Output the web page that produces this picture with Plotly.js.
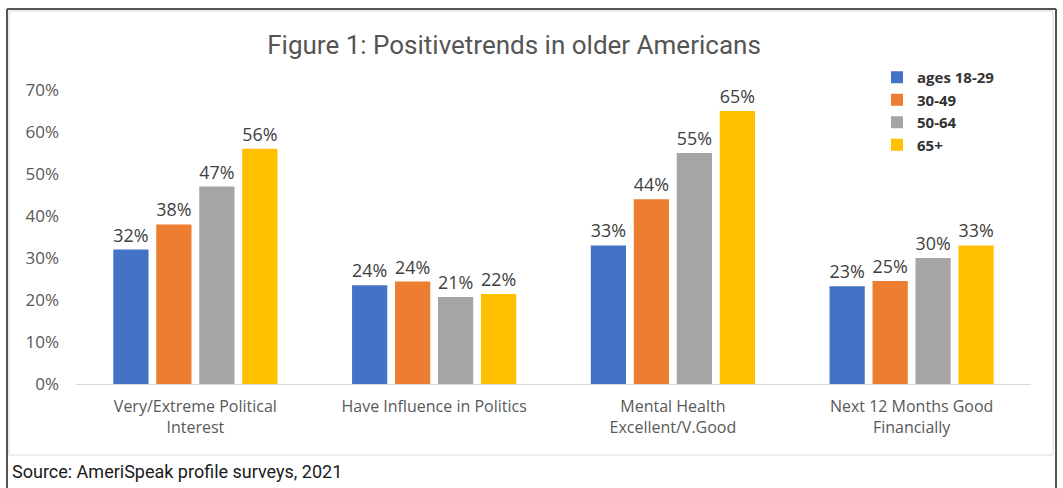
<!DOCTYPE html>
<html>
<head>
<meta charset="utf-8">
<script src="https://cdn.plot.ly/plotly-3.0.1.min.js"></script>
<style>
  html, body { margin: 0; padding: 0; background: #ffffff; }
  #chart { width: 1063px; height: 488px; }
</style>
</head>
<body>
<div id="chart"></div>
<script>
// ---- data ----
var categories = [
  "Very/Extreme Political<br>Interest",
  "Have Influence in Politics",
  "Mental Health<br>Excellent/V.Good",
  "Next 12 Months Good<br>Financially"
];
var seriesNames = ["ages 18-29", "30-49", "50-64", "65+"];
var ages18_29 = [0.32, 0.235, 0.33, 0.233];
var ages30_49 = [0.38, 0.244, 0.44, 0.245];
var ages50_64 = [0.47, 0.207, 0.55, 0.30];
var ages65plus = [0.56, 0.214, 0.65, 0.33];
var labels18_29 = ["32%", "24%", "33%", "23%"];
var labels30_49 = ["38%", "24%", "44%", "25%"];
var labels50_64 = ["47%", "21%", "55%", "30%"];
var labels65plus = ["56%", "22%", "65%", "33%"];
var yTickVals = [0, 0.1, 0.2, 0.3, 0.4, 0.5, 0.6, 0.7];
var yTickText = ["0%", "10%", "20%", "30%", "40%", "50%", "60%", "70%"];
var titleText = "Figure 1: Positivetrends in older Americans";
var sourceText = "Source: AmeriSpeak profile surveys, 2021";

// ---- styling ----
var colors = ["#4472C4", "#ED7D31", "#A5A5A5", "#FFC000"];
var values = [ages18_29, ages30_49, ages50_64, ages65plus];
var labels = [labels18_29, labels30_49, labels50_64, labels65plus];

var W = 1063, H = 488;
var plotL = 76, plotR = 1031, plotT = 90, plotB = 384;
function px(x) { return (x - plotL) / (plotR - plotL); }
function py(y) { return (plotB - y) / (plotB - plotT); }

var traces = seriesNames.map(function (name, i) {
  return {
    type: "bar",
    name: name,
    x: categories,
    y: values[i],
    text: labels[i],
    textposition: "outside",
    cliponaxis: false,
    textfont: { family: "Open Sans, sans-serif", size: 18, color: "#404040" },
    marker: { color: colors[i] },
    hoverinfo: "skip"
  };
});

var layout = {
  width: W,
  height: H,
  paper_bgcolor: "#ffffff",
  plot_bgcolor: "rgba(0,0,0,0)",
  margin: { l: plotL, r: W - plotR, t: plotT, b: H - plotB, pad: 0 },
  barmode: "group",
  bargap: 0.28,
  bargroupgap: 0.18,
  showlegend: true,
  title: {
    text: titleText,
    x: 514 / W,
    xanchor: "center",
    y: 1 - 45 / H,
    yanchor: "middle",
    font: { family: "Roboto, sans-serif", size: 26, color: "#555555" }
  },
  legend: {
    x: px(877),
    xanchor: "left",
    y: py(61),
    yanchor: "top",
    bgcolor: "rgba(0,0,0,0)",
    traceorder: "normal",
    font: { family: "Open Sans, sans-serif", size: 15, color: "#333333", weight: "bold" }
  },
  xaxis: {
    type: "category",
    showline: true,
    linecolor: "#d9d9d9",
    linewidth: 1,
    showgrid: false,
    ticks: "",
    ticklabelstandoff: 8,
    tickfont: { family: "Open Sans, sans-serif", size: 16, color: "#595959" },
    fixedrange: true
  },
  yaxis: {
    range: [0, 0.7],
    tickvals: yTickVals,
    ticktext: yTickText,
    showgrid: false,
    zeroline: false,
    showline: false,
    ticks: "",
    ticklabelstandoff: 16,
    tickfont: { family: "Open Sans, sans-serif", size: 17, color: "#595959" },
    fixedrange: true
  },
  shapes: [
    { type: "rect", xref: "paper", yref: "paper",
      x0: px(9), x1: px(1053), y0: py(455), y1: py(11),
      line: { color: "#d9d9d9", width: 1 }, fillcolor: "rgba(0,0,0,0)", layer: "below" },
    { type: "line", xref: "paper", yref: "paper",
      x0: px(7), x1: px(1056), y0: py(9), y1: py(9),
      line: { color: "#555555", width: 2 } },
    { type: "line", xref: "paper", yref: "paper",
      x0: px(7), x1: px(7), y0: py(9), y1: py(500),
      line: { color: "#555555", width: 2 } },
    { type: "line", xref: "paper", yref: "paper",
      x0: px(1056), x1: px(1056), y0: py(9), y1: py(500),
      line: { color: "#555555", width: 2 } }
  ],
  annotations: [
    { xref: "paper", yref: "paper", x: px(10), y: py(472),
      xanchor: "left", yanchor: "middle", showarrow: false,
      text: sourceText,
      font: { family: "Roboto, sans-serif", size: 18, color: "#1a1a1a" } }
  ]
};

Plotly.newPlot("chart", traces, layout, { displayModeBar: false, staticPlot: true });
</script>
</body>
</html>
